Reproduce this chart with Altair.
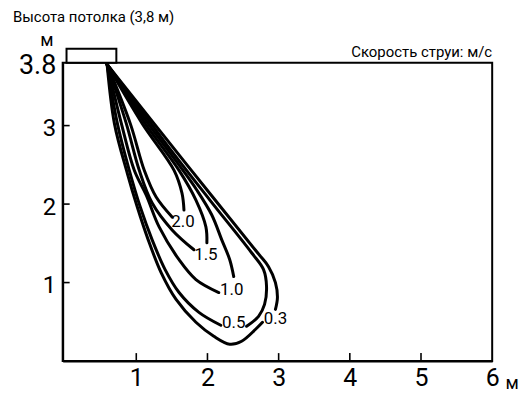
import altair as alt
import pandas as pd

# ---- isovel branches (metres): left side and right side of each jet contour ----
v30_left_x = [0.59, 0.693, 0.874, 1.014, 1.168, 1.349, 1.559, 1.838, 2.089, 2.313, 2.480, 2.676, 2.773]
v30_left_y = [3.78, 3.025, 2.392, 1.962, 1.544, 1.127, 0.785, 0.494, 0.316, 0.215, 0.253, 0.405, 0.494]
v30_right_x = [0.59, 1.740, 2.704, 2.858, 2.955, 2.983, 2.955]
v30_right_y = [3.78, 2.468, 1.380, 1.203, 1.000, 0.810, 0.658]

v05_left_x = [0.59, 0.735, 0.902, 1.056, 1.223, 1.405, 1.601, 1.880, 2.187]
v05_left_y = [3.78, 3.025, 2.430, 1.962, 1.544, 1.165, 0.873, 0.620, 0.456]
v05_right_x = [0.59, 1.209, 1.489, 2.034, 2.620, 2.788, 2.830, 2.802, 2.718, 2.550]
v05_right_y = [3.78, 3.025, 2.684, 2.051, 1.380, 1.165, 0.949, 0.722, 0.570, 0.443]

v10_left_x = [0.59, 0.791, 0.972, 1.140, 1.321, 1.601, 1.838, 2.159]
v10_left_y = [3.78, 3.025, 2.430, 2.114, 1.709, 1.291, 1.038, 0.873]
v10_right_x = [0.59, 1.168, 1.656, 1.852, 2.061, 2.201, 2.313, 2.369]
v10_right_y = [3.78, 3.025, 2.430, 2.177, 1.861, 1.544, 1.291, 1.076]

v15_left_x = [0.59, 0.860, 1.042, 1.223, 1.503, 1.810]
v15_left_y = [3.78, 3.025, 2.430, 2.013, 1.671, 1.418]
v15_right_x = [0.59, 1.126, 1.601, 1.838, 1.978, 1.992]
v15_right_y = [3.78, 3.025, 2.430, 2.051, 1.709, 1.506]

v20_left_x = [0.59, 0.916, 1.112, 1.279, 1.503]
v20_left_y = [3.78, 3.025, 2.430, 2.089, 1.835]
v20_right_x = [0.59, 1.084, 1.531, 1.642, 1.670]
v20_right_y = [3.78, 3.025, 2.430, 2.139, 1.924]

# contour labels
label_text = ["2.0", "1.5", "1.0", "0.5", "0.3"]
label_x = [1.656, 1.978, 2.341, 2.369, 2.955]
label_y = [1.772, 1.354, 0.911, 0.481, 0.532]

# air outlet (fixture) under the ceiling
fixture_x = [0.02, 0.72]
fixture_y = [3.80, 3.98]

# axes
x_ticks = [1, 2, 3, 4, 5, 6]
x_minor = [1, 2, 3, 4, 5]
y_ticks = [1, 2, 3, 3.8]
y_minor = [1, 2, 3]

title_text = "Высота потолка (3,8 м)"
legend_text = "Скорость струи: м/с"
unit_text = "м"

branches = {
    "0.3L": (v30_left_x, v30_left_y), "0.3R": (v30_right_x, v30_right_y),
    "0.5L": (v05_left_x, v05_left_y), "0.5R": (v05_right_x, v05_right_y),
    "1.0L": (v10_left_x, v10_left_y), "1.0R": (v10_right_x, v10_right_y),
    "1.5L": (v15_left_x, v15_left_y), "1.5R": (v15_right_x, v15_right_y),
    "2.0L": (v20_left_x, v20_left_y), "2.0R": (v20_right_x, v20_right_y),
}
rows = []
for name, (xs_, ys_) in branches.items():
    for i, (a, b) in enumerate(zip(xs_, ys_)):
        rows.append({"branch": name, "x": a, "y": b, "i": i})
df = pd.DataFrame(rows)

labels_df = pd.DataFrame({"t": label_text, "x": label_x, "y": label_y})
fixture_df = pd.DataFrame({"x": [fixture_x[0]], "x2": [fixture_x[1]],
                           "y": [fixture_y[0]], "y2": [fixture_y[1]]})
xt_df = pd.DataFrame({"x": x_minor})
yt_df = pd.DataFrame({"y": y_minor})

xs = alt.Scale(domain=[-0.034, 6], nice=False, zero=False)
ys = alt.Scale(domain=[0, 3.8], nice=False, zero=False)

x_axis = alt.Axis(values=x_ticks, title=None, labelPadding=5, labelFlush=False,
                  labelOverlap=False, format="~g", labelFontSize=25)
y_axis = alt.Axis(values=y_ticks, title=None, labelPadding=7, labelOffset=3,
                  labelFlush=False, labelOverlap=False, format="~g",
                  labelFontSize={"condition": {"test": "datum.value == 3.8", "value": 27},
                                 "value": 24})

lines = alt.Chart(df).mark_line(
    color="black", strokeWidth=3, interpolate="catmull-rom",
    strokeCap="round", strokeJoin="round"
).encode(
    x=alt.X("x:Q", scale=xs, axis=x_axis),
    y=alt.Y("y:Q", scale=ys, axis=y_axis),
    detail="branch:N",
    order="i:Q",
)

labels = alt.Chart(labels_df).mark_text(
    font="Roboto", fontSize=17, color="black",
    align="center", baseline="middle"
).encode(x="x:Q", y="y:Q", text="t:N")

fixture = alt.Chart(fixture_df).mark_rect(
    fill="white", stroke="black", strokeWidth=2
).encode(x="x:Q", x2="x2", y="y:Q", y2="y2")

xticks = alt.Chart(xt_df).mark_rule(color="black", strokeWidth=1.6).encode(
    x="x:Q", y=alt.value(300), y2=alt.value(292))
yticks = alt.Chart(yt_df).mark_rule(color="black", strokeWidth=1.6).encode(
    y="y:Q", x=alt.value(0), x2=alt.value(7))

title = alt.Chart(pd.DataFrame({"t": [title_text]})).mark_text(
    font="Roboto", fontSize=15, color="black", align="left", baseline="alphabetic"
).encode(x=alt.value(-50), y=alt.value(-41), text="t:N")

leg = alt.Chart(pd.DataFrame({"t": [legend_text]})).mark_text(
    font="Roboto", fontSize=15, color="black", align="right", baseline="alphabetic"
).encode(x=alt.value(432), y=alt.value(-6), text="t:N")

unit_y = alt.Chart(pd.DataFrame({"t": [unit_text]})).mark_text(
    font="Roboto", fontSize=18, color="black", align="center", baseline="alphabetic"
).encode(x=alt.value(-16), y=alt.value(-17), text="t:N")

unit_x = alt.Chart(pd.DataFrame({"t": [unit_text]})).mark_text(
    font="Roboto", fontSize=18, color="black", align="center", baseline="alphabetic"
).encode(x=alt.value(452), y=alt.value(328), text="t:N")

chart = alt.layer(
    lines, xticks, yticks, fixture, labels, title, leg, unit_y, unit_x
).properties(
    width=432, height=300,
    autosize=alt.AutoSizeParams(type="none"),
    padding={"left": 55, "top": 54, "right": 32, "bottom": 31},
).configure_view(
    stroke="black", strokeWidth=2
).configure_axis(
    domainColor="black", domainWidth=2, labelColor="black",
    labelFont="Roboto", grid=False, ticks=False, tickSize=0
)

chart.save("out.html", embed_options={"renderer": "svg", "actions": False})
